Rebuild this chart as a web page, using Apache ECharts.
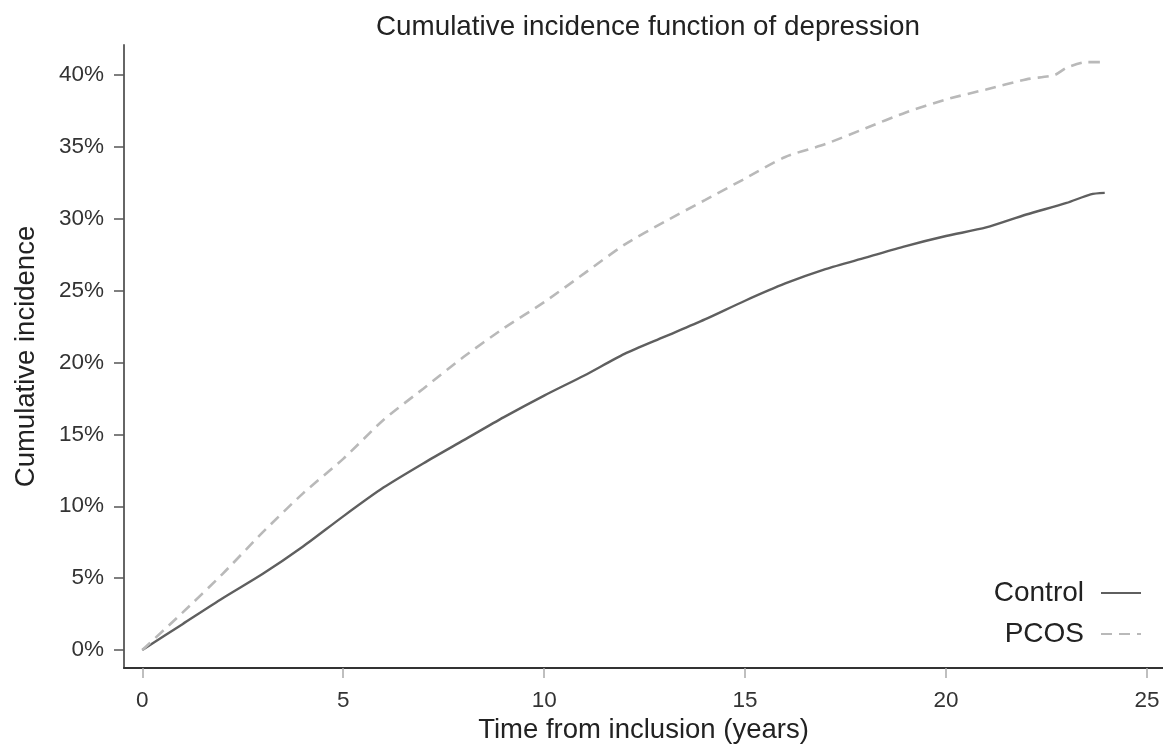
<!DOCTYPE html>
<html>
<head>
<meta charset="utf-8">
<script src="https://cdn.jsdelivr.net/npm/echarts@6/dist/echarts.min.js"></script>
<style>
html,body{margin:0;padding:0;background:#fff;}
#chart{width:1163px;height:751px;}
</style>
</head>
<body>
<div id="chart"></div>
<script>
// Data (time in years, cumulative incidence in %)
const chartTitle = 'Cumulative incidence function of depression';
const xTitle = 'Time from inclusion (years)';
const yTitle = 'Cumulative incidence';
const xTicks = [0, 5, 10, 15, 20, 25];
const yTicks = [0, 5, 10, 15, 20, 25, 30, 35, 40];

const controlTime = [0, 1, 2, 3, 4, 5, 6, 7, 8, 9, 10, 11, 12, 13, 14, 15, 16, 17, 18, 19, 20, 21, 22, 23, 23.6, 23.95];
const controlCI   = [0, 1.8, 3.6, 5.3, 7.2, 9.3, 11.3, 13.0, 14.6, 16.2, 17.7, 19.1, 20.6, 21.8, 23.0, 24.3, 25.5, 26.5, 27.3, 28.1, 28.8, 29.4, 30.3, 31.1, 31.7, 31.8];

const pcosTime = [0, 1, 2, 3, 4, 5, 6, 7, 8, 9, 10, 11, 12, 13, 14, 15, 16, 17, 18, 19, 20, 21, 22, 22.7, 23, 23.5, 23.95];
const pcosCI   = [0, 2.6, 5.3, 8.2, 10.9, 13.3, 16.0, 18.2, 20.4, 22.4, 24.2, 26.2, 28.2, 29.8, 31.3, 32.8, 34.3, 35.2, 36.3, 37.4, 38.3, 39.0, 39.7, 40.0, 40.5, 40.9, 40.9];

const seriesNames = ['Control', 'PCOS'];

const zip = (a, b) => a.map((v, i) => [v, b[i]]);

const chart = echarts.init(document.getElementById('chart'), null, {renderer: 'canvas'});
const FONT = '"Liberation Sans", Arial, sans-serif';

chart.setOption({
  animation: false,
  backgroundColor: '#ffffff',
  textStyle: {fontFamily: FONT},
  title: {
    text: chartTitle,
    left: 643,
    textAlign: 'center',
    top: 8,
    textStyle: {fontFamily: FONT, fontSize: 27.8, fontWeight: 'normal', color: '#222'}
  },
  grid: {left: 124, right: 0, top: 45, bottom: 83, containLabel: false},
  xAxis: {
    type: 'value',
    min: -0.455,
    max: 25.4,
    name: xTitle,
    nameLocation: 'middle',
    nameGap: 48,
    nameTextStyle: {fontFamily: FONT, fontSize: 27.5, color: '#222'},
    axisLine: {show: true, onZero: false, lineStyle: {color: '#333', width: 2}},
    axisTick: {show: true, customValues: xTicks, length: 10, lineStyle: {color: '#aaa', width: 1.5}},
    axisLabel: {customValues: xTicks, margin: 21, fontSize: 22.5, color: '#333', fontFamily: FONT},
    splitLine: {show: false}
  },
  yAxis: {
    type: 'value',
    min: -1.25,
    max: 42.09,
    name: yTitle,
    nameLocation: 'middle',
    nameGap: 84,
    nameRotate: 90,
    nameTextStyle: {fontFamily: FONT, fontSize: 27.5, color: '#222'},
    axisLine: {show: true, onZero: false, lineStyle: {color: '#666', width: 2}},
    axisTick: {show: true, customValues: yTicks, length: 10, lineStyle: {color: '#555', width: 1.5}},
    axisLabel: {customValues: yTicks, margin: 20, fontSize: 22.5, color: '#333', fontFamily: FONT, formatter: '{value}%'},
    splitLine: {show: false}
  },
  legend: {
    orient: 'vertical',
    right: 21,
    top: 579,
    padding: 0,
    align: 'right',
    itemWidth: 40,
    itemHeight: 14,
    itemGap: 13,
    itemStyle: {opacity: 0},
    textStyle: {fontFamily: FONT, fontSize: 28, color: '#222', padding: [0, 12, 0, 0]},
    data: seriesNames
  },
  series: [
    {
      name: seriesNames[0],
      type: 'line',
      data: zip(controlTime, controlCI),
      showSymbol: false,
      symbol: 'none',
      smooth: 0.25,
      lineStyle: {color: '#5f5f5f', width: 2.4},
      itemStyle: {color: '#5f5f5f'}
    },
    {
      name: seriesNames[1],
      type: 'line',
      data: zip(pcosTime, pcosCI),
      showSymbol: false,
      symbol: 'none',
      smooth: 0.25,
      lineStyle: {color: '#b9b9b9', width: 2.6, type: [11, 7]},
      itemStyle: {color: '#b9b9b9'}
    }
  ]
});
</script>
</body>
</html>
